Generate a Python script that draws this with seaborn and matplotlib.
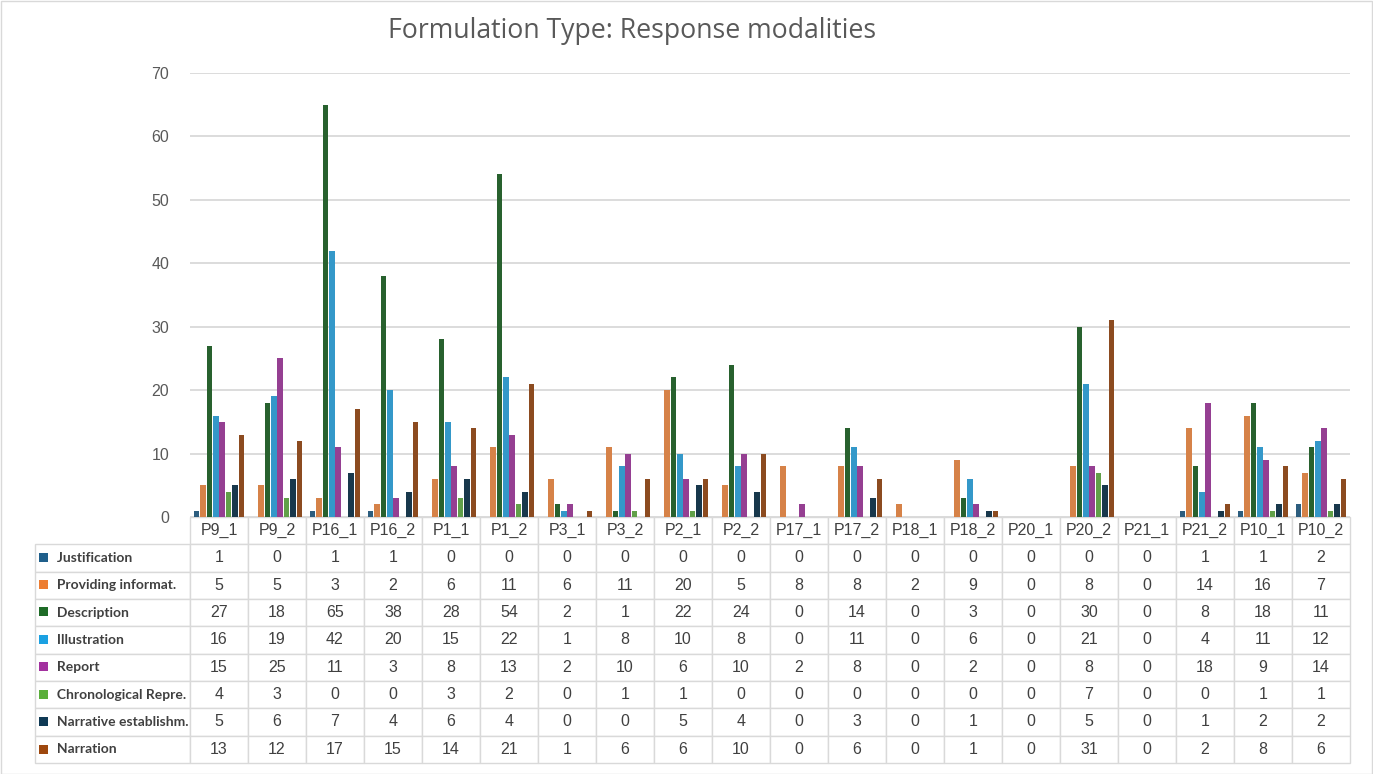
import matplotlib
matplotlib.use("Agg")
import matplotlib.pyplot as plt
import seaborn as sns
import pandas as pd
from matplotlib.patches import Rectangle

participants = ['P9_1', 'P9_2', 'P16_1', 'P16_2', 'P1_1', 'P1_2', 'P3_1', 'P3_2', 'P2_1', 'P2_2',
                'P17_1', 'P17_2', 'P18_1', 'P18_2', 'P20_1', 'P20_2', 'P21_1', 'P21_2', 'P10_1', 'P10_2']
modalities = ['Justification', 'Providing informat.', 'Description', 'Illustration', 'Report',
              'Chronological Repre.', 'Narrative establishm.', 'Narration']
justification = [1, 0, 1, 1, 0, 0, 0, 0, 0, 0, 0, 0, 0, 0, 0, 0, 0, 1, 1, 2]
providing = [5, 5, 3, 2, 6, 11, 6, 11, 20, 5, 8, 8, 2, 9, 0, 8, 0, 14, 16, 7]
description = [27, 18, 65, 38, 28, 54, 2, 1, 22, 24, 0, 14, 0, 3, 0, 30, 0, 8, 18, 11]
illustration = [16, 19, 42, 20, 15, 22, 1, 8, 10, 8, 0, 11, 0, 6, 0, 21, 0, 4, 11, 12]
report = [15, 25, 11, 3, 8, 13, 2, 10, 6, 10, 2, 8, 0, 2, 0, 8, 0, 18, 9, 14]
chronological = [4, 3, 0, 0, 3, 2, 0, 1, 1, 0, 0, 0, 0, 0, 0, 7, 0, 0, 1, 1]
narrative_est = [5, 6, 7, 4, 6, 4, 0, 0, 5, 4, 0, 3, 0, 1, 0, 5, 0, 1, 2, 2]
narration = [13, 12, 17, 15, 14, 21, 1, 6, 6, 10, 0, 6, 0, 1, 0, 31, 0, 2, 8, 6]

series = [justification, providing, description, illustration, report,
          chronological, narrative_est, narration]
colors = ['#1F5F8B', '#ED7D31', '#1E6B27', '#1BA1E2', '#A3319F', '#5AAE3A', '#0F3A55', '#9E480E']

# Long format for seaborn
rows = []
for name, vals in zip(modalities, series):
    for p, v in zip(participants, vals):
        rows.append({'Participant': p, 'Type': name, 'Count': v})
df = pd.DataFrame(rows)

sns.set_style('white')
plt.rcParams['font.family'] = ['Liberation Sans', 'DejaVu Sans']

W, H = 1373, 774
AX_W, AX_H = 1160, 444
fig = plt.figure(figsize=(W / 100, H / 100), dpi=100)
ax = fig.add_axes([190 / W, 1 - 517 / H, AX_W / W, AX_H / H])

sns.barplot(data=df, x='Participant', y='Count', hue='Type', order=participants,
            hue_order=modalities, palette=colors, width=0.88, gap=0.12,
            ax=ax, legend=False, edgecolor='none', linewidth=0)

ax.set_xlim(-0.5, len(participants) - 0.5)
ax.set_ylim(0, 70)
ax.set_yticks(range(0, 71, 10))
ax.yaxis.grid(True, color='#D9D9D9', linewidth=1.3)
ax.set_axisbelow(True)
for s in ax.spines.values():
    s.set_visible(False)
ax.set_xticks([])
ax.set_xlabel('')
ax.set_ylabel('')
ax.tick_params(axis='y', length=0, pad=15, labelsize=11.5, labelcolor='#595959')

fig.text(632 / W, 1 - 31 / H, 'Formulation Type: Response modalities', ha='center', va='center',
         fontsize=19.2, color='#595959', family=['Open Sans', 'DejaVu Sans'])

# Data table under the chart (grid part fills the bbox, row labels hang to the left)
tbl_h = 246 / AX_H
col_w = 1 / len(participants)
row_h = tbl_h / (len(modalities) + 1)
lab_w = 155 / AX_W
cell_text = [[str(v) for v in vals] for vals in series]
tbl = ax.table(cellText=cell_text, colLabels=participants, cellLoc='center',
               bbox=[0, -tbl_h, 1, tbl_h])
tbl.auto_set_font_size(False)
for i, name in enumerate(modalities):
    tbl.add_cell(i + 1, -1, width=lab_w, height=row_h, text='     ' + name, loc='left')
for (r, c), cell in tbl.get_celld().items():
    cell.set_edgecolor('#D9D9D9')
    cell.set_linewidth(1.0)
    cell.set_width(lab_w if c == -1 else col_w)
    cell.set_height(row_h)
    txt = cell.get_text()
    txt.set_color('#404040')
    if c == -1:
        txt.set_fontsize(10)
        txt.set_fontweight('bold')
        txt.set_family(['Lato', 'DejaVu Sans'])
        cell.PAD = 0.03
    else:
        txt.set_fontsize(11.5)

# Legend keys in the row labels
for i, col in enumerate(colors):
    yc = 557 + i * 27.43
    fig.add_artist(Rectangle((39 / W, 1 - (yc + 4.5) / H), 9 / W, 9 / H,
                             transform=fig.transFigure, facecolor=col, edgecolor='none'))

# Outer chart border
fig.add_artist(Rectangle((0.5 / W, 0.5 / H), 1 - 1.5 / W, 1 - 1.5 / H, transform=fig.transFigure,
                         facecolor='none', edgecolor='#D9D9D9', linewidth=1))

fig.savefig('out.png', dpi=100)
